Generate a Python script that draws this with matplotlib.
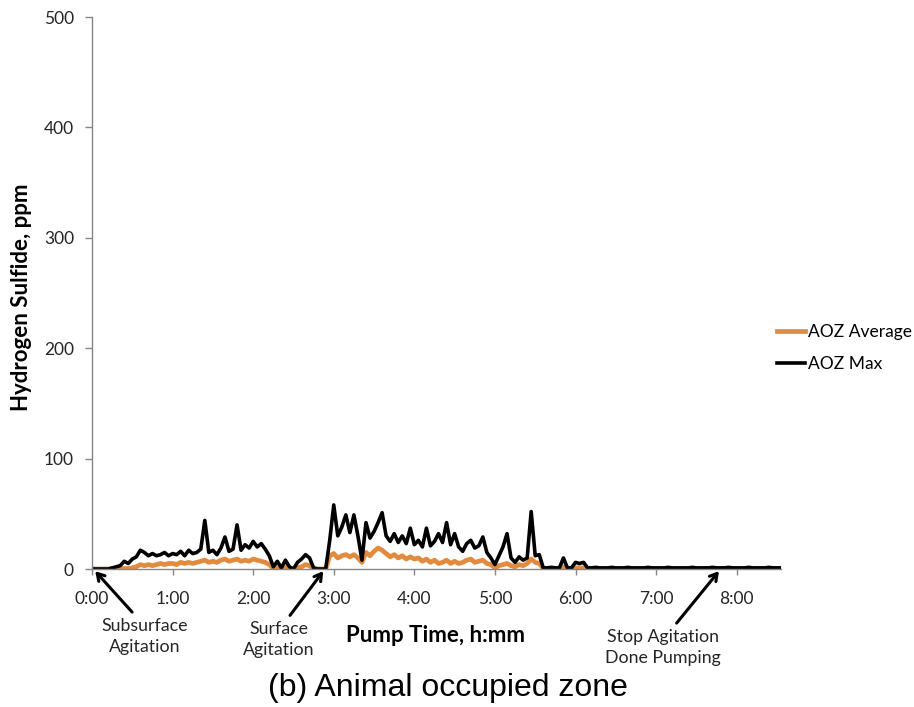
import numpy as np
import matplotlib
matplotlib.use("Agg")
import matplotlib.pyplot as plt

# Readings logged every 3 minutes during pumping (ppm)
step_min = 3
aoz_max = [
    0, 0, 0, 0, 0, 1, 2, 3, 7, 5,
    9, 11, 17, 15, 12, 14, 12, 13, 15, 12,
    14, 13, 16, 12, 17, 14, 15, 18, 44, 15,
    17, 13, 19, 29, 16, 18, 40, 17, 22, 19,
    25, 20, 23, 18, 12, 2, 7, 1, 8, 2,
    0, 6, 9, 13, 10, 1, 0, 0, 0, 26,
    58, 30, 38, 49, 33, 49, 30, 8, 42, 28,
    34, 42, 51, 30, 25, 32, 24, 30, 23, 37,
    22, 26, 20, 37, 21, 25, 32, 24, 42, 22,
    32, 20, 16, 23, 26, 19, 21, 29, 15, 10,
    4, 12, 20, 32, 10, 6, 11, 8, 10, 52,
    12, 13, 1, 1, 1.5, 1, 1, 10, 1, 1,
    6, 5, 6, 1, 1, 1.5, 1, 1, 1, 1.5,
    1, 1, 1, 1.5, 1, 1, 1, 1, 1.5, 1,
    1, 1, 1, 1.5, 1, 1, 1, 1, 1, 1.5,
    1, 1, 1, 1, 1.5, 1, 1, 1, 1.5, 1,
    1, 1, 1, 1.5, 1, 1, 1, 1, 1.5, 1,
    1, 1,
]
aoz_avg = [
    0, 0, 0, 0, 0, 0, 0, 0, 0.5, 0.5,
    1, 2, 4, 3, 4, 3, 4, 5, 4, 5,
    5, 4, 6, 5, 6, 5, 6, 7, 8, 6,
    7, 6, 8, 9, 7, 8, 9, 7, 8, 7,
    9, 8, 7, 6, 4, 0.5, 1, 0.5, 2, 1,
    0, 1, 2, 4, 3, 0, 0, 0, 0, 12,
    14, 10, 12, 13, 11, 13, 10, 6, 15, 12,
    16, 19, 17, 14, 11, 13, 10, 12, 9, 11,
    9, 10, 7, 9, 6, 8, 5, 6, 8, 5,
    7, 5, 6, 8, 9, 6, 7, 8, 5, 4,
    1, 3, 4, 5, 3, 2, 4, 3, 5, 9,
    6, 5, 0.5, 0.5, 0.5, 0.5, 0.5, 2, 0.5, 0.5,
    1, 1, 1, 0.5, 0.5, 0.5, 0.5, 0.5, 0.5, 0.5,
    0.5, 0.5, 0.5, 0.5, 0.5, 0.5, 0.5, 0.5, 0.5, 0.5,
    0.5, 0.5, 0.5, 0.5, 0.5, 0.5, 0.5, 0.5, 0.5, 0.5,
    0.5, 0.5, 0.5, 0.5, 0.5, 0.5, 0.5, 0.5, 0.5, 0.5,
    0.5, 0.5, 0.5, 0.5, 0.5, 0.5, 0.5, 0.5, 0.5, 0.5,
    0.5, 0.5,
]
hour_ticks = [0, 1, 2, 3, 4, 5, 6, 7, 8]
hour_labels = ["0:00", "1:00", "2:00", "3:00", "4:00", "5:00", "6:00", "7:00", "8:00"]
y_ticks = [0, 100, 200, 300, 400, 500]

# events: (label, hour pointed at, text position in hours / ppm)
events = [
    ("Subsurface\nAgitation", 0.04, 0.65, -61),
    ("Surface\nAgitation", 2.87, 2.32, -64),
    ("Stop Agitation\nDone Pumping", 7.78, 7.08, -71),
]

hours = np.arange(len(aoz_max)) * step_min / 60.0

orange = "#E28B3E"
gray = "#868686"
txt = "#262626"
font = "Lato"

fig = plt.figure(figsize=(9.14, 7.07), dpi=100)
ax = fig.add_axes([92 / 914, 138 / 707, (781 - 92) / 914, (569 - 17) / 707])

ax.plot(hours, aoz_avg, color=orange, lw=3.4, label="AOZ Average", solid_joinstyle="round")
ax.plot(hours, aoz_max, color="black", lw=2.6, label="AOZ Max", solid_joinstyle="round")

ax.set_xlim(0, hours[-1])
ax.set_ylim(0, 500)
ax.set_xticks(hour_ticks)
ax.set_xticklabels(hour_labels, fontname=font, fontsize=12.5, color=txt)
ax.set_yticks(y_ticks)
ax.set_yticklabels([str(v) for v in y_ticks], fontname=font, fontsize=12.5, color=txt)
ax.tick_params(axis="x", direction="out", length=4, width=1, color=gray, pad=12)
ax.tick_params(axis="y", direction="out", length=5, width=1, color=gray, pad=8)
for side in ["top", "right"]:
    ax.spines[side].set_visible(False)
for side in ["left", "bottom"]:
    ax.spines[side].set_color(gray)
    ax.spines[side].set_linewidth(1)

fig.text(22 / 914, 1 - 297 / 707, "Hydrogen Sulfide, ppm", rotation=90,
         ha="center", va="center", fontname=font, fontweight="bold", fontsize=16)
fig.text(435 / 914, 1 - 636 / 707, "Pump Time, h:mm", ha="center", va="center",
         fontname=font, fontweight="bold", fontsize=16)
fig.text(448 / 914, 1 - 688 / 707, "(b) Animal occupied zone", ha="center", va="center",
         fontname="Liberation Sans", fontsize=23)

for label, at, tx, ty in events:
    ax.text(tx, ty, label, ha="center", va="center", fontname=font, fontsize=12.8,
            color=txt, linespacing=1.35, clip_on=False)
    ax.annotate("", xy=(at, -2), xytext=(tx + (at - tx) * 0.25, ty + 22),
                arrowprops=dict(arrowstyle="->,head_length=0.5,head_width=0.3",
                                color="black", lw=2.2, shrinkA=0, shrinkB=0),
                annotation_clip=False)

leg = ax.legend(loc="center left", bbox_to_anchor=(777 / 914, 1 - 348 / 707),
                bbox_transform=fig.transFigure, frameon=False, borderpad=0,
                borderaxespad=0, handlelength=1.6, handletextpad=0.2,
                labelspacing=0.95, prop={"family": font, "size": 12.5})

fig.savefig("out.png", dpi=100)
